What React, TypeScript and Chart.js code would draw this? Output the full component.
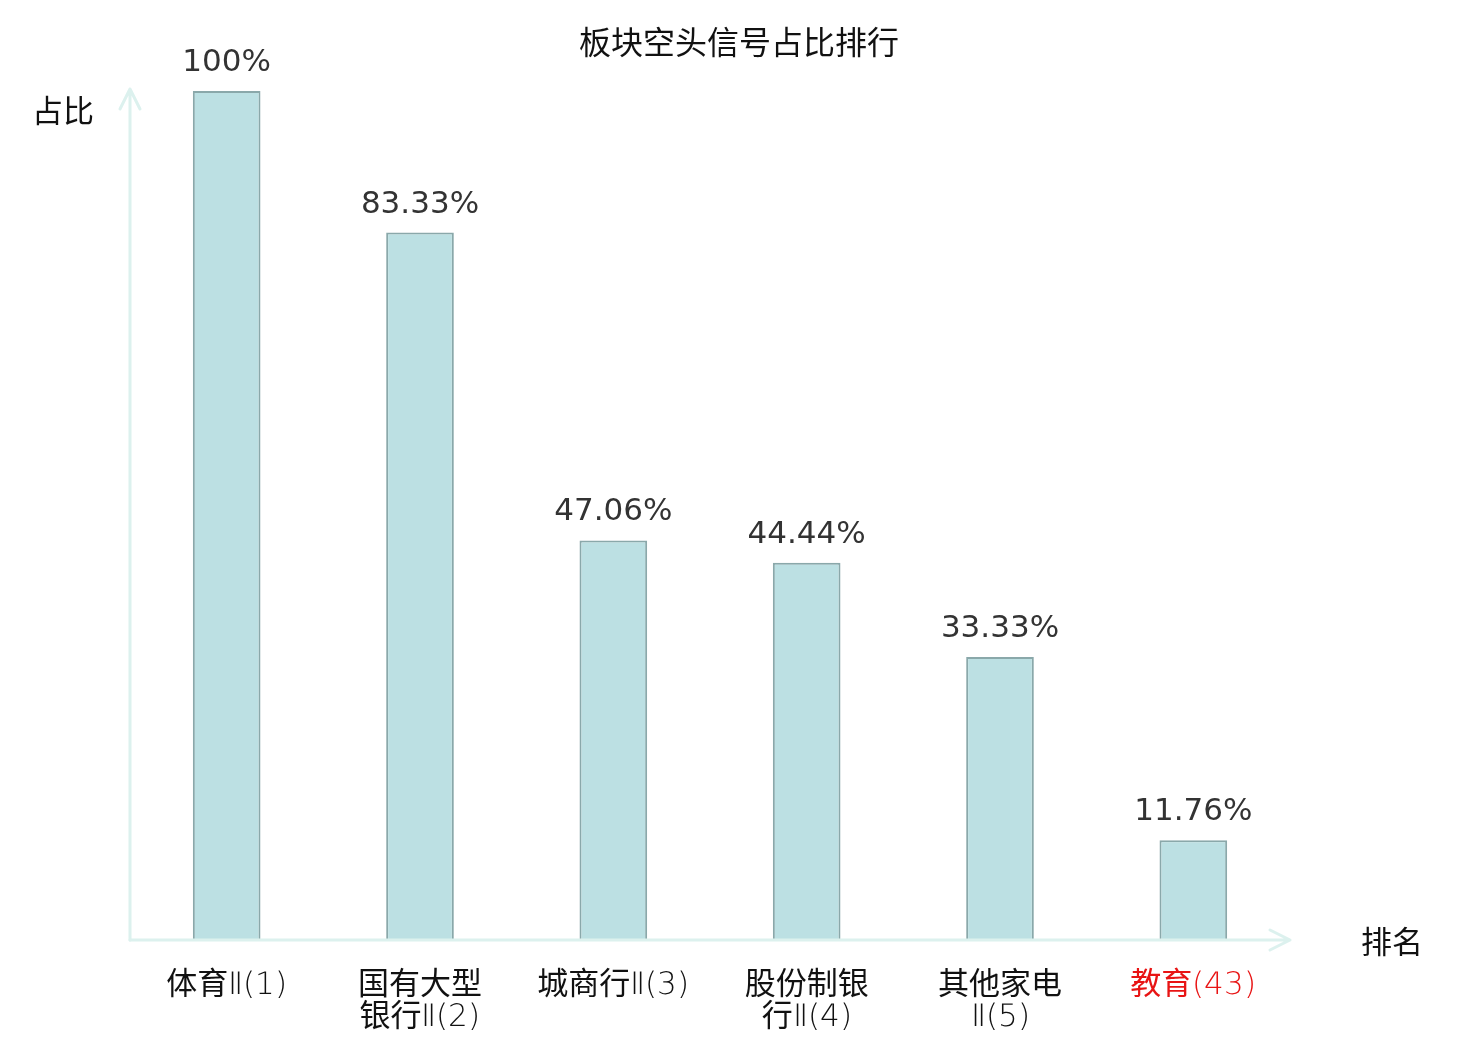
import React, { useEffect, useRef } from "react";
import { Chart, registerables } from "chart.js";

Chart.register(...registerables);

const categories: string[][] = [
  ["体育Ⅱ(1)"],
  ["国有大型", "银行Ⅱ(2)"],
  ["城商行Ⅱ(3)"],
  ["股份制银", "行Ⅱ(4)"],
  ["其他家电", "Ⅱ(5)"],
  ["教育(43)"],
];
const values: number[] = [100, 83.33, 47.06, 44.44, 33.33, 11.76];
const highlightIndex = 5;
const titleText = "板块空头信号占比排行";
const yName = "占比";
const xName = "排名";

const CJK = '"Noto Sans CJK SC", "DejaVu Sans", sans-serif';
const TICKFONT = '"TickLatin", "Noto Sans CJK SC", sans-serif';
const AXIS_COLOR = "#dcf1ee";

const fontCss = `@font-face { font-family: "TickLatin"; src: local("DejaVu Sans ExtraLight"), local("DejaVuSans-ExtraLight"); font-weight: normal; font-style: normal; }`;

const decorPlugin = {
  id: "decor",
  afterDatasetsDraw(chart: any) {
    const { ctx, chartArea } = chart;
    const { left, right, bottom, top } = chartArea;
    ctx.save();
    ctx.strokeStyle = AXIS_COLOR;
    ctx.lineWidth = 3;
    ctx.lineCap = "round";
    ctx.lineJoin = "round";
    ctx.beginPath();
    ctx.moveTo(left, bottom);
    ctx.lineTo(left, top - 2);
    ctx.moveTo(left - 10, top + 18);
    ctx.lineTo(left, top - 2);
    ctx.lineTo(left + 10, top + 18);
    ctx.stroke();
    ctx.beginPath();
    ctx.moveTo(left, bottom);
    ctx.lineTo(right, bottom);
    ctx.moveTo(right - 20, bottom - 10);
    ctx.lineTo(right, bottom);
    ctx.lineTo(right - 20, bottom + 10);
    ctx.stroke();

    const meta = chart.getDatasetMeta(0);
    ctx.fillStyle = "#333333";
    ctx.font = '31px "DejaVu Sans", sans-serif';
    ctx.textAlign = "center";
    ctx.textBaseline = "alphabetic";
    meta.data.forEach((el: any, i: number) => {
      const v = values[i];
      const txt = (Number.isInteger(v) ? String(v) : v.toFixed(2)) + "%";
      ctx.fillText(txt, el.x, el.y - 20);
    });

    ctx.fillStyle = "#111111";
    ctx.textBaseline = "middle";
    ctx.textAlign = "center";
    ctx.font = "32px " + CJK;
    ctx.fillText(titleText, 739, 42);
    ctx.font = "31px " + CJK;
    ctx.fillText(yName, 63, 110);
    ctx.fillText(xName, 1392, 941);
    ctx.restore();
  },
};

export default function App() {
  const ref = useRef<HTMLCanvasElement>(null);
  useEffect(() => {
    let chart: any = null;
    let cancelled = false;
    const build = () => {
      if (cancelled || !ref.current) return;
      chart = new Chart(ref.current, {
        type: "bar",
        data: {
          labels: categories,
          datasets: [
            {
              data: values,
              backgroundColor: "#bce0e3",
              borderColor: "#8aa8aa",
              borderWidth: 2,
              categoryPercentage: 1,
              barPercentage: 0.35,
            },
          ],
        },
        options: {
          animation: false,
          responsive: false,
          devicePixelRatio: 1,
          layout: { padding: { left: 130, right: 190, top: 91, bottom: 0 } },
          plugins: {
            legend: { display: false },
            title: { display: false },
            tooltip: { enabled: false },
          },
          scales: {
            x: {
              grid: { display: false, drawTicks: false },
              border: { display: false },
              ticks: {
                padding: 30,
                color: (c: any) => (c.index === highlightIndex ? "#e81414" : "#111111"),
                font: { family: TICKFONT, size: 31, weight: "normal", lineHeight: 1.03 },
                maxRotation: 0,
                autoSkip: false,
              },
              afterFit: (scale: any) => {
                scale.height = 100;
              },
            },
            y: {
              display: false,
              min: 0,
              max: 100,
            },
          },
        },
        plugins: [decorPlugin],
      } as any);
    };
    const fonts: any = (document as any).fonts;
    if (fonts && fonts.load) {
      Promise.all([
        fonts.load('31px "TickLatin"', "(1)Ⅱ"),
        fonts.load('31px "Noto Sans CJK SC"', "体育"),
      ])
        .catch(() => null)
        .then(build);
    } else {
      build();
    }
    return () => {
      cancelled = true;
      if (chart) chart.destroy();
    };
  }, []);
  return (
    <div style={{ position: "absolute", left: 0, top: 0, width: 1480, height: 1040, background: "#fff" }}>
      <style>{fontCss}</style>
      <canvas ref={ref} width={1480} height={1040} style={{ width: 1480, height: 1040 }} />
    </div>
  );
}
